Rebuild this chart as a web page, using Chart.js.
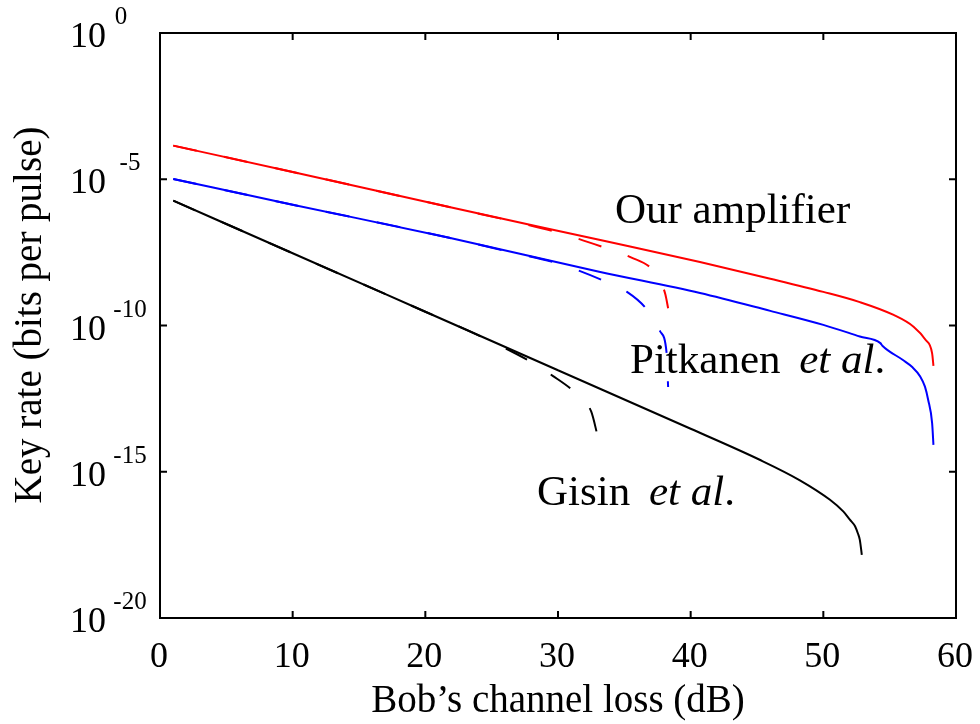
<!DOCTYPE html>
<html>
<head>
<meta charset="utf-8">
<title>Key rate vs channel loss</title>
<script src="https://cdn.jsdelivr.net/npm/chart.js@4/dist/chart.umd.min.js"></script>
<style>
html, body { margin: 0; padding: 0; background: #fff; }
</style>
</head>
<body>
<canvas id="keyRateChart" width="980" height="724"></canvas>
<script>
// channel loss (dB) and key rate (bits per pulse) for each curve
var lossAmp = [1, 10, 21.8, 33.1, 40.7, 46, 50, 52.75, 55.3, 56.8, 57.7, 58.2, 58.3];
var rateAmp = [1.41e-4, 1.78e-5, 1.12e-6, 8.5e-8, 1.48e-8, 3.98e-9, 1.41e-9, 6.3e-10, 2.29e-10, 9.1e-11, 3.24e-11, 1.12e-11, 4.2e-12];

var lossAmpDashed = [1, 10, 21.8, 27, 30, 33.4, 35.5, 37.2, 37.8, 38.1, 38.3];
var rateAmpDashed = [1.41e-4, 1.78e-5, 1.12e-6, 3.3e-7, 1.51e-7, 4.8e-8, 2.14e-8, 7.6e-9, 2.8e-9, 1.12e-9, 3.9e-10];

var lossPitkanen = [1, 10, 21.8, 33.1, 40.7, 46, 50, 52.75, 54.3, 54.45, 56, 56.7, 57.3, 57.66, 57.9, 58.2, 58.3];
var ratePitkanen = [1.02e-5, 1.35e-6, 1.0e-7, 6.9e-9, 1.29e-9, 3.16e-10, 1.05e-10, 4.2e-11, 2.5e-11, 2.04e-11, 6.6e-12, 3.8e-12, 1.82e-12, 8.1e-13, 2.9e-13, 4.6e-14, 8.3e-15];

var lossPitkanenDashed = [1, 10, 21.8, 26, 30, 33.6, 35.2, 36.6, 37.7, 38.2, 38.3];
var ratePitkanenDashed = [1.02e-5, 1.35e-6, 1.0e-7, 3.55e-8, 1.32e-8, 3.16e-9, 1.41e-9, 3.98e-10, 6.3e-11, 1.0e-11, 7.9e-13];

var lossGisin = [1, 10, 20, 30, 40, 45.2, 48.2, 50.5, 51.5, 52, 52.4, 52.6, 52.75, 52.9];
var rateGisin = [1.86e-6, 2.95e-8, 2.95e-10, 2.95e-12, 2.95e-14, 2.57e-15, 5.2e-16, 1.1e-16, 4.4e-17, 2.3e-17, 1.35e-17, 7.9e-18, 4.7e-18, 1.45e-18];

var lossGisinDashed = [1, 10, 20, 24.3, 27.9, 29.6, 31.2, 32.5, 33.0];
var rateGisinDashed = [1.86e-6, 2.95e-8, 2.95e-10, 4.0e-11, 5.9e-12, 1.9e-12, 5.5e-13, 1.15e-13, 1.58e-14];

var xTicks = [0, 10, 20, 30, 40, 50, 60];
var yTickExponents = [0, -5, -10, -15, -20];

var serifFont = '"Liberation Serif", "Times New Roman", serif';

function zipPoints(xs, ys)
{
    var pts = [];
    for (let i = 0; i < xs.length; i++) {
        pts.push({ x: xs[i], y: ys[i] });
    }
    return pts;
}

function makeSeries(xs, ys, color, dashed)
{
    return {
        data: zipPoints(xs, ys),
        borderColor: color,
        borderWidth: 2,
        borderDash: dashed ? [24, 28] : [],
        pointRadius: 0,
        fill: false,
        cubicInterpolationMode: 'monotone'
    };
}

// frame, inward ticks, "10^n" labels, axis titles and curve names
var axesAndLabels = {
    id: 'axesAndLabels',
    afterDraw: function(chart) {
        var ctx = chart.ctx;
        var a = chart.chartArea;
        var xs = chart.scales.x;
        var ys = chart.scales.y;
        var tickLen = 7;

        ctx.save();
        ctx.strokeStyle = '#000';
        ctx.lineWidth = 2;
        ctx.strokeRect(a.left, a.top, a.right - a.left, a.bottom - a.top);

        ctx.beginPath();
        xTicks.forEach(function(v) {
            var px = xs.getPixelForValue(v);
            ctx.moveTo(px, a.bottom); ctx.lineTo(px, a.bottom - tickLen);
            ctx.moveTo(px, a.top); ctx.lineTo(px, a.top + tickLen);
        });
        yTickExponents.forEach(function(e) {
            var py = ys.getPixelForValue(Math.pow(10, e));
            ctx.moveTo(a.left, py); ctx.lineTo(a.left + tickLen, py);
            ctx.moveTo(a.right, py); ctx.lineTo(a.right - tickLen, py);
        });
        ctx.stroke();

        ctx.fillStyle = '#000';
        ctx.textBaseline = 'alphabetic';

        // x tick labels
        ctx.font = '36px ' + serifFont;
        ctx.textAlign = 'center';
        xTicks.forEach(function(v) {
            ctx.fillText(String(v), xs.getPixelForValue(v) - 1, a.bottom + 49);
        });

        // y tick labels as 10 with a raised exponent
        yTickExponents.forEach(function(e) {
            var py = ys.getPixelForValue(Math.pow(10, e));
            ctx.font = '36px ' + serifFont;
            ctx.textAlign = 'right';
            ctx.fillText('10', 106, py + 14);
            ctx.font = '25px ' + serifFont;
            ctx.textAlign = 'center';
            ctx.fillText(String(e), e === 0 ? 121 : 130, py - 9);
        });

        // axis titles
        ctx.font = '39px ' + serifFont;
        ctx.textAlign = 'center';
        ctx.fillText('Bob\u2019s channel loss (dB)', (a.left + a.right) / 2, 712);

        ctx.save();
        ctx.translate(41, 315);
        ctx.rotate(-Math.PI / 2);
        ctx.fillText('Key rate (bits per pulse)', 0, 0);
        ctx.restore();

        // curve names
        ctx.textAlign = 'left';
        drawName(ctx, 615, 223, 'Our amplifier', '');
        drawName(ctx, 630, 373, 'Pitkanen ', 'et al');
        drawName(ctx, 537, 505, 'Gisin ', 'et al');
        ctx.restore();
    }
};

function drawName(ctx, x, y, plain, italic)
{
    ctx.font = '43px ' + serifFont;
    ctx.fillText(plain, x, y);
    if (!italic) {
        return;
    }
    x += ctx.measureText(plain).width + 8;
    ctx.font = 'italic 43px ' + serifFont;
    ctx.fillText(italic, x, y);
    x += ctx.measureText(italic).width;
    ctx.font = '43px ' + serifFont;
    ctx.fillText('.', x, y);
}

var ctx = document.getElementById('keyRateChart').getContext('2d');
var keyRateChart = new Chart(ctx, {
    type: 'line',
    data: {
        datasets: [
            makeSeries(lossAmpDashed, rateAmpDashed, '#ff0000', true),
            makeSeries(lossPitkanenDashed, ratePitkanenDashed, '#0000ff', true),
            makeSeries(lossGisinDashed, rateGisinDashed, '#000000', true),
            makeSeries(lossAmp, rateAmp, '#ff0000', false),
            makeSeries(lossPitkanen, ratePitkanen, '#0000ff', false),
            makeSeries(lossGisin, rateGisin, '#000000', false)
        ]
    },
    options: {
        responsive: false,
        animation: false,
        layout: {
            padding: { left: 160, right: 24, top: 33, bottom: 106 }
        },
        scales: {
            x: { type: 'linear', min: 0, max: 60, display: false },
            y: { type: 'logarithmic', min: 1e-20, max: 1, display: false }
        },
        plugins: {
            legend: { display: false },
            tooltip: { enabled: false }
        }
    },
    plugins: [axesAndLabels]
});
</script>
</body>
</html>
